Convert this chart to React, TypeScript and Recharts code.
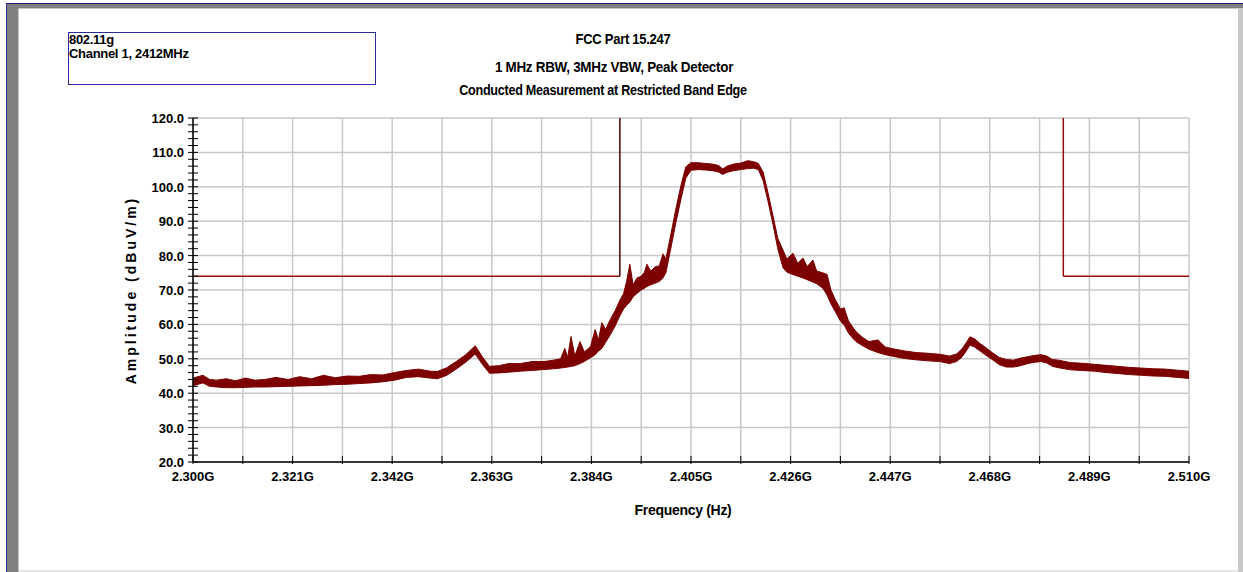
import React from 'react';
import {
  ComposedChart,
  Area,
  XAxis,
  YAxis,
  CartesianGrid,
  ReferenceLine,
} from 'recharts';

// frequency (GHz) of each read-off point of the trace
const freqs = [
  2.3, 2.3021, 2.3035, 2.305, 2.307, 2.309, 2.311, 2.313, 2.3152, 2.3175,
  2.32, 2.3225, 2.325, 2.3275, 2.33, 2.3325, 2.335, 2.3375, 2.34, 2.3425,
  2.345, 2.3475, 2.35, 2.3515, 2.3535, 2.3555, 2.3575, 2.3595, 2.361, 2.3625,
  2.3645, 2.3665, 2.369, 2.3715, 2.374, 2.376, 2.3775, 2.3784, 2.379, 2.3797,
  2.3805, 2.3816, 2.3825, 2.3838, 2.3848, 2.3855, 2.3862, 2.387, 2.388, 2.389,
  2.39, 2.3908, 2.3914, 2.3921, 2.3928, 2.3936, 2.3945, 2.3952, 2.3957, 2.3965,
  2.3975, 2.3983, 2.3991, 2.3997, 2.4008, 2.4018, 2.4029, 2.4039, 2.405, 2.4065,
  2.408, 2.4095, 2.4108, 2.4117, 2.4126, 2.414, 2.4155, 2.417, 2.4182, 2.4192,
  2.4202, 2.4212, 2.4223, 2.4233, 2.4244, 2.4252, 2.4265, 2.4275, 2.4286, 2.4295,
  2.4307, 2.4315, 2.4328, 2.4337, 2.4345, 2.4355, 2.4365, 2.4373, 2.4382, 2.4392,
  2.44, 2.4412, 2.4425, 2.4444, 2.446, 2.448, 2.45, 2.4525, 2.455, 2.4575,
  2.4595, 2.461, 2.4622, 2.4632, 2.4638, 2.4648, 2.466, 2.4672, 2.4685, 2.47,
  2.4715, 2.473, 2.4745, 2.476, 2.4775, 2.4788, 2.48, 2.4812, 2.4825, 2.485,
  2.4875, 2.49, 2.4925, 2.495, 2.4975, 2.5, 2.5025, 2.505, 2.5075, 2.51,
];

// lower edge of the noisy trace (dBuV/m)
const traceLow = [
  42.2, 43.0, 42.0, 41.8, 41.6, 41.6, 41.7, 41.8, 41.8, 41.9,
  42.0, 42.1, 42.2, 42.3, 42.5, 42.6, 42.8, 43.0, 43.3, 43.8,
  44.6, 44.8, 44.4, 44.2, 45.2, 47.0, 49.0, 51.4, 48.4, 45.8,
  45.9, 46.1, 46.4, 46.6, 46.9, 47.1, 47.3, 47.5, 47.6, 47.8,
  48.0, 48.6, 49.2, 50.3, 51.2, 52.3, 53.0, 54.8, 57.0, 59.5,
  62.5, 64.5, 65.5, 66.5, 68.0, 69.0, 70.0, 70.5, 71.0, 71.5,
  72.0, 72.5, 73.5, 75.0, 82.5, 89.5, 96.5, 102.5, 104.8, 105.0,
  104.9, 104.7, 104.3, 103.6, 104.2, 104.7, 105.0, 105.3, 105.4, 105.0,
  101.8, 96.0, 89.0, 82.0, 76.5, 75.2, 74.5, 74.0, 73.5, 73.0,
  72.3, 71.8, 70.5, 68.5, 66.0, 63.5, 61.0, 59.8, 57.5, 55.8,
  54.8, 53.8, 52.8, 51.8, 51.2, 50.6, 50.1, 49.7, 49.4, 49.2,
  48.6, 49.2, 50.6, 52.6, 54.0, 53.4, 52.2, 51.0, 49.8, 48.3,
  47.6, 47.6, 48.0, 48.6, 49.0, 49.2, 48.8, 47.8, 47.4, 46.8,
  46.6, 46.4, 46.0, 45.7, 45.4, 45.2, 45.0, 44.9, 44.6, 44.3,
];

// upper edge of the noisy trace (dBuV/m)
const traceHigh = [
  44.4, 45.2, 44.0, 43.8, 44.2, 43.6, 44.4, 43.8, 44.0, 44.6,
  44.0, 44.8, 44.2, 45.2, 44.5, 45.0, 44.9, 45.4, 45.3, 46.0,
  46.6, 47.0, 46.4, 46.3, 47.4, 49.2, 51.2, 53.8, 50.6, 47.8,
  48.0, 48.6, 48.6, 49.2, 49.2, 49.6, 50.0, 53.0, 50.4, 56.5,
  50.8, 55.0, 52.0, 53.5, 58.5, 55.5, 60.5, 58.5, 61.5, 64.0,
  67.0, 69.0, 72.4, 77.5, 71.5, 73.5, 74.0, 75.2, 77.5, 75.5,
  76.8, 77.0, 80.5, 79.0, 86.5, 93.5, 100.5, 105.8, 107.0, 107.0,
  106.8, 106.6, 106.2, 105.2, 106.0, 106.6, 106.9, 107.6, 107.3, 106.8,
  104.3, 98.5, 91.5, 85.0, 81.6, 79.0, 80.7, 77.8, 79.3, 76.8,
  78.7, 75.5, 75.0, 74.5, 70.0, 67.0, 64.5, 64.8, 61.0, 59.0,
  57.6, 56.2, 55.0, 55.5, 53.4, 52.8, 52.3, 51.8, 51.6, 51.3,
  50.8, 51.4, 53.0, 55.0, 56.4, 55.8, 54.4, 53.2, 51.8, 50.4,
  49.8, 49.6, 50.2, 50.6, 51.0, 51.2, 50.8, 49.8, 49.6, 48.9,
  48.7, 48.4, 48.1, 47.8, 47.5, 47.3, 47.1, 47.0, 46.7, 46.4,
];

// restricted band limit
const limitLevel = 74;
const lowerBandEdge = 2.39;
const upperBandEdge = 2.4835;

const xTicks = [
  2.3, 2.3105, 2.321, 2.3315, 2.342, 2.3525, 2.363, 2.3735, 2.384, 2.3945,
  2.405, 2.4155, 2.426, 2.4365, 2.447, 2.4575, 2.468, 2.4785, 2.489, 2.4995,
  2.51,
];
const xTickLabels = [
  '2.300G', '', '2.321G', '', '2.342G', '', '2.363G', '', '2.384G', '',
  '2.405G', '', '2.426G', '', '2.447G', '', '2.468G', '', '2.489G', '',
  '2.510G',
];
const yGrid = [20, 30, 40, 50, 60, 70, 80, 90, 100, 110, 120];
const yTicks = [
  20, 22, 24, 26, 28, 30, 32, 34, 36, 38, 40, 42, 44, 46, 48, 50, 52, 54, 56, 58,
  60, 62, 64, 66, 68, 70, 72, 74, 76, 78, 80, 82, 84, 86, 88, 90, 92, 94, 96, 98,
  100, 102, 104, 106, 108, 110, 112, 114, 116, 118, 120,
];

const titleLines = [
  'FCC Part 15.247',
  '1 MHz RBW, 3MHz VBW, Peak Detector',
  'Conducted Measurement at Restricted Band Edge',
];
const noteLines = ['802.11g', 'Channel 1, 2412MHz'];

const data = freqs.map((f, i) => ({ f, band: [traceLow[i], traceHigh[i]] }));

const FONT = '"Liberation Sans", Arial, sans-serif';
const TRACE = '#7d0000';
const LIMIT = '#9a0a0a';

// title placement: [centre x, top y, horizontal squeeze]
const titleLayout = [
  [623, 31, 0.93],
  [614, 59, 0.96],
  [603, 82, 0.9],
];

function XTick(props: any) {
  const { x, y, index } = props;
  const label = xTickLabels[index] ?? '';
  return (
    <g>
      <line x1={x} x2={x} y1={y - 6} y2={y + 2} stroke="#000" strokeWidth={1} />
      {label && (
        <text x={x} y={y + 19} textAnchor="middle" fontFamily={FONT} fontWeight="bold" fontSize={13} fill="#000">
          {label}
        </text>
      )}
    </g>
  );
}

function YTick(props: any) {
  const { x, y, payload } = props;
  const major = payload.value % 10 === 0;
  return (
    <g>
      <line x1={x - 5} x2={x + 5} y1={y} y2={y} stroke="#000" strokeWidth={1} />
      {major && (
        <text x={x - 9} y={y + 5} textAnchor="end" fontFamily={FONT} fontWeight="bold" fontSize={13} fill="#000">
          {payload.value.toFixed(1)}
        </text>
      )}
    </g>
  );
}

export default function App() {
  return (
    <div style={{ position: 'absolute', left: 0, top: 0, width: 1243, height: 572, background: '#fff', overflow: 'hidden' }}>
      {/* window frame */}
      <div style={{ position: 'absolute', left: 6, top: 3, width: 1237, height: 1, background: '#1a1a80' }} />
      <div style={{ position: 'absolute', left: 7, top: 4, width: 1236, height: 4, background: '#808080' }} />
      <div style={{ position: 'absolute', left: 18, top: 8, width: 1220, height: 1, background: '#c8c8c8' }} />
      <div style={{ position: 'absolute', left: 6, top: 3, width: 1, height: 569, background: '#2a2aa0' }} />
      <div style={{ position: 'absolute', left: 7, top: 4, width: 11, height: 568, background: '#808080' }} />
      <div style={{ position: 'absolute', left: 18, top: 8, width: 1, height: 564, background: '#c0c0c0' }} />
      <div style={{ position: 'absolute', left: 1238, top: 8, width: 5, height: 564, background: '#c8c8c8' }} />
      <div style={{ position: 'absolute', left: 19, top: 570, width: 1219, height: 2, background: '#e4e4e4' }} />

      {/* note box */}
      <div
        style={{
          position: 'absolute', left: 68, top: 32, width: 306, height: 51,
          border: '1px solid #2a2a9a', fontFamily: FONT, fontWeight: 'bold', fontSize: 13,
          lineHeight: '14px', color: '#000', letterSpacing: -0.3,
        }}
      >
        {noteLines.map((t) => (
          <div key={t}>{t}</div>
        ))}
      </div>

      {/* titles */}
      {titleLines.map((t, i) => (
        <div
          key={t}
          style={{
            position: 'absolute', left: titleLayout[i][0] - 300, width: 600, top: titleLayout[i][1],
            textAlign: 'center', fontFamily: FONT, fontWeight: 'bold', fontSize: 14, color: '#000',
            letterSpacing: -0.3, transform: `scaleX(${titleLayout[i][2]})`,
          }}
        >
          {t}
        </div>
      ))}

      {/* axis titles */}
      <div
        style={{
          position: 'absolute', left: 131, top: 290, transform: 'translate(-50%, -50%) rotate(-90deg)',
          whiteSpace: 'nowrap', fontFamily: FONT, fontWeight: 'bold',
          fontSize: 14, letterSpacing: 3, color: '#000',
        }}
      >
        Amplitude (dBuV/m)
      </div>
      <div
        style={{
          position: 'absolute', left: 583, width: 200, top: 502, textAlign: 'center',
          fontFamily: FONT, fontWeight: 'bold', fontSize: 14, color: '#000', letterSpacing: -0.3,
        }}
      >
        Frequency (Hz)
      </div>

      <div style={{ position: 'absolute', left: 0, top: 0 }}>
        <ComposedChart
          width={1243}
          height={572}
          data={data}
          margin={{ top: 118, right: 54, bottom: 80, left: 133 }}
        >
          <CartesianGrid
            stroke="#c8c8c8"
            strokeWidth={1.5}
            verticalValues={xTicks}
            horizontalValues={yGrid}
          />
          <XAxis
            dataKey="f"
            type="number"
            domain={[2.3, 2.51]}
            ticks={xTicks}
            interval={0}
            allowDataOverflow
            height={30}
            tickSize={0}
            tickMargin={0}
            tickLine={false}
            tick={<XTick />}
            axisLine={{ stroke: '#000', strokeWidth: 1.5 }}
          />
          <YAxis
            type="number"
            domain={[20, 120]}
            ticks={yTicks}
            interval={0}
            allowDataOverflow
            width={60}
            tickSize={0}
            tickMargin={0}
            tickLine={false}
            tick={<YTick />}
            axisLine={{ stroke: '#000', strokeWidth: 1.5 }}
          />
          <ReferenceLine
            segment={[{ x: 2.3, y: limitLevel }, { x: lowerBandEdge, y: limitLevel }]}
            stroke={LIMIT}
            strokeWidth={1.5}
          />
          <ReferenceLine
            segment={[{ x: lowerBandEdge, y: limitLevel }, { x: lowerBandEdge, y: 120 }]}
            stroke="#4a0000"
            strokeWidth={1.5}
          />
          <ReferenceLine
            segment={[{ x: upperBandEdge, y: 120 }, { x: upperBandEdge, y: limitLevel }]}
            stroke={LIMIT}
            strokeWidth={1.5}
          />
          <ReferenceLine
            segment={[{ x: upperBandEdge, y: limitLevel }, { x: 2.51, y: limitLevel }]}
            stroke={LIMIT}
            strokeWidth={1.5}
          />
          <Area
            dataKey="band"
            type="linear"
            stroke={TRACE}
            strokeWidth={1}
            fill={TRACE}
            fillOpacity={1}
            dot={false}
            activeDot={false}
            isAnimationActive={false}
          />
        </ComposedChart>
      </div>
    </div>
  );
}
